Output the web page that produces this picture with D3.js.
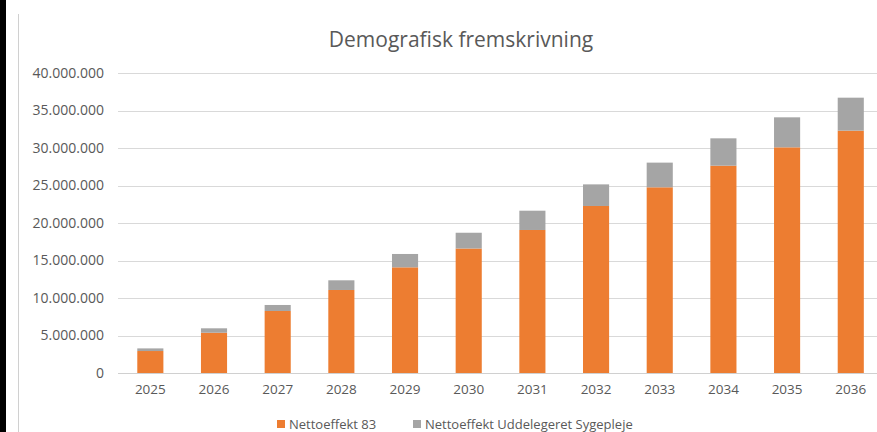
<!DOCTYPE html>
<html>
<head>
<meta charset="utf-8">
<script src="https://cdn.jsdelivr.net/npm/d3@7"></script>
<style>
html,body{margin:0;padding:0;background:#fff;}
svg{display:block;font-family:"Open Sans",sans-serif;}
</style>
</head>
<body>
<svg id="chart" width="877" height="432"></svg>
<script>
const title = "Demografisk fremskrivning";
const years = ["2025","2026","2027","2028","2029","2030","2031","2032","2033","2034","2035","2036"];
const nettoeffekt83 = [2930000,5370000,8270000,11070000,14090000,16600000,19070000,22270000,24760000,27640000,30090000,32310000];
const uddelegeret = [350000,590000,800000,1290000,1780000,2100000,2570000,2880000,3290000,3650000,4000000,4400000];
const seriesNames = ["Nettoeffekt 83","Nettoeffekt Uddelegeret Sygepleje"];
const seriesColors = ["#ED7D31","#A5A5A5"];
const yTicks = [0,5000000,10000000,15000000,20000000,25000000,30000000,35000000,40000000];

const svg = d3.select("#chart");
const W = 877, H = 432;

// frame lines
svg.append("rect").attr("x",0).attr("y",0).attr("width",6).attr("height",H).attr("fill","#000");
svg.append("line").attr("x1",18.5).attr("x2",18.5).attr("y1",14).attr("y2",H).attr("stroke","#D0D0D0").attr("stroke-width",1);

const x = d3.scaleBand().domain(years).range([118.5, 882.6]).paddingInner(0.59).paddingOuter(0.295);
const y = d3.scaleLinear().domain([0,40000000]).range([373,73]);

const fmt = v => d3.format(",")(v).replace(/,/g,".");

// gridlines
svg.append("g").selectAll("line").data(yTicks.filter(t=>t>0)).join("line")
  .attr("x1",118).attr("x2",W).attr("y1",d=>Math.round(y(d))+0.5).attr("y2",d=>Math.round(y(d))+0.5)
  .attr("stroke","#D9D9D9").attr("stroke-width",1);

// y axis labels
const yAxis = d3.axisLeft(y).tickValues(yTicks).tickFormat(fmt).tickSize(0).tickPadding(0);
const gy = svg.append("g").attr("transform","translate(104,0)").call(yAxis);
gy.select(".domain").remove();
gy.selectAll("text").attr("fill","#595959").style("font-size","14px").style("font-family","'Open Sans',sans-serif");

// stacked bars
const data = years.map((yr,i)=>({year:yr, a:nettoeffekt83[i], b:uddelegeret[i]}));
const stack = d3.stack().keys(["a","b"])(data);
svg.append("g").selectAll("g").data(stack).join("g")
  .attr("fill",(d,i)=>seriesColors[i])
  .selectAll("rect").data(d=>d).join("rect")
  .attr("x",d=>x(d.data.year)).attr("width",x.bandwidth())
  .attr("y",d=>y(d[1])).attr("height",d=>y(d[0])-y(d[1]));

// baseline
svg.append("line").attr("x1",118).attr("x2",W).attr("y1",373.5).attr("y2",373.5).attr("stroke","#D0D0D0");

// x axis
const xAxis = d3.axisBottom(x).tickSize(0).tickPadding(0);
const gx = svg.append("g").attr("transform","translate(0,384)").call(xAxis);
gx.select(".domain").remove();
gx.selectAll("text").attr("fill","#595959").style("font-size","13.5px").style("font-family","'Open Sans',sans-serif").attr("dy","0.71em");

// title
svg.append("text").attr("x",461).attr("y",47).attr("text-anchor","middle")
  .attr("fill","#595959").style("font-size","21px").text(title);

// legend
const legendX = [277, 413];
const lg = svg.append("g").selectAll("g").data(seriesNames).join("g")
  .attr("transform",(d,i)=>`translate(${legendX[i]},0)`);
lg.append("rect").attr("x",0).attr("y",420).attr("width",8).attr("height",8).attr("fill",(d,i)=>seriesColors[i]);
lg.append("text").attr("x",12).attr("y",429).attr("fill","#595959").style("font-size","13px").text(d=>d);
</script>
</body>
</html>
